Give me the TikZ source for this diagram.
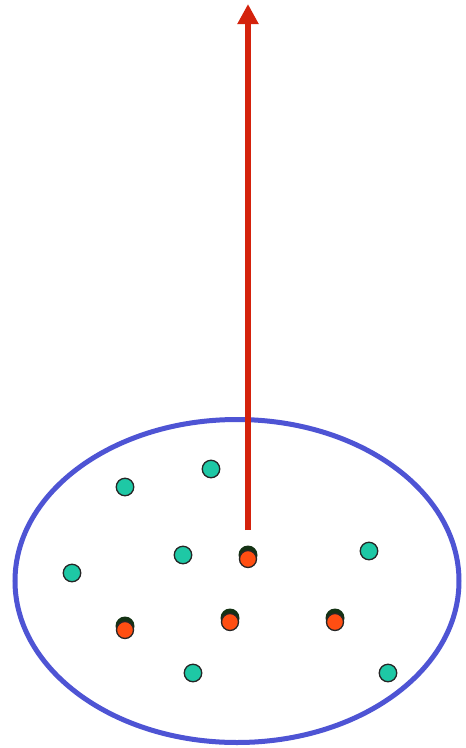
\documentclass[tikz,border=0pt]{standalone}
\usetikzlibrary{arrows.meta}
\definecolor{ellblue}{RGB}{78,84,212}
\definecolor{arrred}{RGB}{212,34,12}
\definecolor{tealdot}{RGB}{30,200,165}
\definecolor{orgdot}{RGB}{255,78,18}
\definecolor{darkdot}{RGB}{20,50,20}
\begin{document}
\begin{tikzpicture}[x=1pt,y=-1pt,
  tdot/.style={circle,draw=black!85,line width=1.3pt,fill=tealdot,inner sep=0pt,minimum size=17.5pt},
  odot/.style={circle,draw=black!85,line width=1.3pt,fill=orgdot,inner sep=0pt,minimum size=17pt},
  shadowdot/.style={circle,fill=darkdot,inner sep=0pt,minimum size=19pt}]
\useasboundingbox (0,0) rectangle (466,748);
\fill[white] (0,0) rectangle (466,748);
\draw[ellblue,line width=5pt] (237,581) ellipse [x radius=222, y radius=161.5];
% teal dots
\node[tdot] (t1) at (125,487) {};
\node[tdot] (t2) at (211,469) {};
\node[tdot] (t3) at (183,555) {};
\node[tdot] (t4) at (369,551) {};
\node[tdot] (t5) at (72,573) {};
\node[tdot] (t6) at (193,673) {};
\node[tdot] (t7) at (388,673) {};
% orange dots with dark dots behind
\node[shadowdot] (s1) at (248,555) {};
\node[odot] (o1) at (248,559) {};
\node[shadowdot] (s2) at (125,626) {};
\node[odot] (o2) at (125,630) {};
\node[shadowdot] (s3) at (230,618) {};
\node[odot] (o3) at (230,622) {};
\node[shadowdot] (s4) at (335,618) {};
\node[odot] (o4) at (335,622) {};
% arrow
\coordinate (abase) at (248,530);
\coordinate (atip) at (248,4);
\draw[arrred,line width=6pt,-{Triangle[length=20pt,width=20pt]}] (abase) -- (atip);
\end{tikzpicture}
\end{document}
